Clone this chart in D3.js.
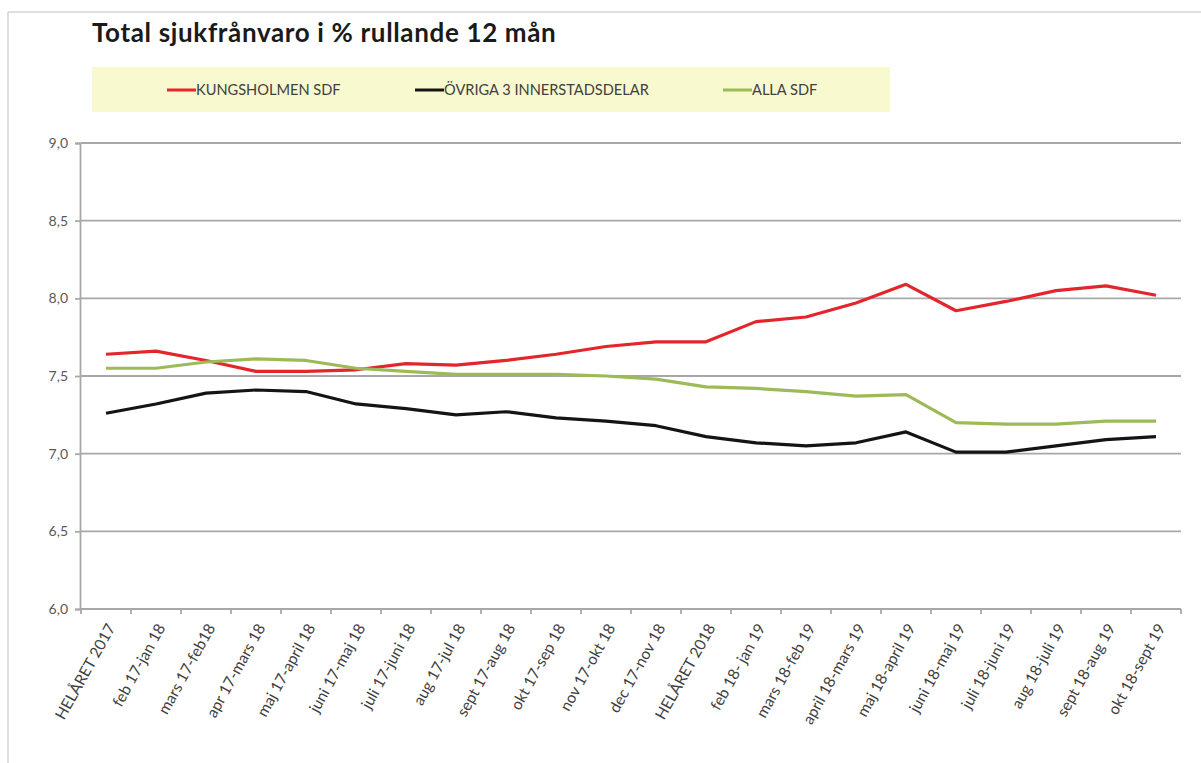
<!DOCTYPE html>
<html>
<head>
<meta charset="utf-8">
<script src="https://cdn.jsdelivr.net/npm/d3@7"></script>
<style>
  body { margin: 0; background: #fff; }
  svg { display: block; font-family: Lato, "Open Sans", sans-serif; }
</style>
</head>
<body>
<div id="chart"></div>
<script>
var categories = ["HELÅRET 2017", "feb 17-jan 18", "mars 17-feb18", "apr 17-mars 18", "maj 17-april 18",
    "juni 17-maj 18", "juli 17-juni 18", "aug 17-jul 18", "sept 17-aug 18", "okt 17-sep 18",
    "nov 17-okt 18", "dec 17-nov 18", "HELÅRET 2018", "feb 18- jan 19", "mars 18-feb 19",
    "april 18-mars 19", "maj 18-april 19", "juni 18-maj 19", "juli 18-juni 19", "aug 18-juli 19",
    "sept 18-aug 19", "okt 18-sept 19"];

var kungsholmen = [7.64, 7.66, 7.60, 7.53, 7.53, 7.54, 7.58, 7.57, 7.60, 7.64, 7.69,
    7.72, 7.72, 7.85, 7.88, 7.97, 8.09, 7.92, 7.98, 8.05, 8.08, 8.02];
var ovriga = [7.26, 7.32, 7.39, 7.41, 7.40, 7.32, 7.29, 7.25, 7.27, 7.23, 7.21,
    7.18, 7.11, 7.07, 7.05, 7.07, 7.14, 7.01, 7.01, 7.05, 7.09, 7.11];
var alla = [7.55, 7.55, 7.59, 7.61, 7.60, 7.55, 7.53, 7.51, 7.51, 7.51, 7.50,
    7.48, 7.43, 7.42, 7.40, 7.37, 7.38, 7.20, 7.19, 7.19, 7.21, 7.21];

var seriesNames = ["KUNGSHOLMEN SDF", "ÖVRIGA 3 INNERSTADSDELAR", "ALLA SDF"];
var seriesColors = ["#e3262b", "#141414", "#9bbb59"];
var yTicks = [6.0, 6.5, 7.0, 7.5, 8.0, 8.5, 9.0];

var width = 1201, height = 763;
var margin = { top: 143, right: 20, bottom: 154, left: 81 };

var svg = d3.select("#chart")
    .append("svg")
    .attr("width", width)
    .attr("height", height);

// frame
svg.append("line").attr("x1", 8).attr("x2", 8).attr("y1", 12).attr("y2", height)
    .style("stroke", "#d4d4d4").style("stroke-width", 1.5);
svg.append("line").attr("x1", 8).attr("x2", width).attr("y1", 12).attr("y2", 12)
    .style("stroke", "#d4d4d4").style("stroke-width", 1.5);

// title
svg.append("text")
    .attr("x", 92)
    .attr("y", 42)
    .text("Total sjukfrånvaro i % rullande 12 mån")
    .style("font-size", "26px")
    .style("font-weight", "700")
    .style("letter-spacing", "0.65px")
    .style("fill", "#1a1a1a");

// legend
svg.append("rect")
    .attr("x", 92).attr("y", 67)
    .attr("width", 798).attr("height", 45)
    .style("fill", "#f9f9cf");

var legendX = [167, 415, 723];
var legend = svg.selectAll(".legend")
    .data(seriesNames)
    .join("g")
    .attr("class", "legend")
    .attr("transform", (d, i) => "translate(" + legendX[i] + ",90)");
legend.append("line")
    .attr("x1", 0).attr("x2", 29)
    .style("stroke", (d, i) => seriesColors[i])
    .style("stroke-width", 3);
legend.append("text")
    .attr("x", 29)
    .attr("y", 0)
    .attr("dy", "0.35em")
    .text(d => d)
    .style("font-size", "14.6px")
    .style("fill", "#404040");

var x = d3.scaleBand()
    .domain(categories)
    .range([margin.left, width - margin.right])
    .padding(0);

var y = d3.scaleLinear()
    .domain([6, 9])
    .range([height - margin.bottom, margin.top]);

var locale = d3.formatLocale({ decimal: ",", thousands: " ", grouping: [3], currency: ["", " kr"] });
var fmt = locale.format(".1f");

// gridlines
svg.append("g")
    .selectAll("line")
    .data(yTicks.filter(d => d > 6))
    .join("line")
    .attr("x1", margin.left)
    .attr("x2", width - margin.right)
    .attr("y1", d => y(d))
    .attr("y2", d => y(d))
    .style("stroke", "#a8a8a8")
    .style("stroke-width", 1.8);

// y axis
var yAxis = svg.append("g")
    .attr("transform", "translate(" + (margin.left - 1) + ",0)")
    .call(d3.axisLeft(y).tickValues(yTicks).tickFormat(fmt).tickSize(5).tickPadding(7));
yAxis.selectAll("path, line").style("stroke", "#a8a8a8").style("stroke-width", 1.8);
yAxis.selectAll("text")
    .style("font-size", "14px")
    .style("fill", "#595959")
    .style("font-family", "Lato, sans-serif");

// x axis
var xg = svg.append("g")
    .attr("transform", "translate(0," + y(6) + ")");
xg.append("line")
    .attr("x1", margin.left - 1).attr("x2", width - margin.right)
    .style("stroke", "#a8a8a8").style("stroke-width", 1.8);
xg.selectAll(".tick")
    .data(categories.concat(["end"]))
    .join("line")
    .attr("x1", (d, i) => margin.left + i * x.bandwidth())
    .attr("x2", (d, i) => margin.left + i * x.bandwidth())
    .attr("y1", 0).attr("y2", 5)
    .style("stroke", "#a8a8a8").style("stroke-width", 1.8);
xg.selectAll(".xlab")
    .data(categories)
    .join("text")
    .attr("class", "xlab")
    .attr("transform", d => "translate(" + (x(d) + x.bandwidth() / 2 + 5) + ",16) rotate(-61)")
    .attr("text-anchor", "end")
    .attr("dy", "0.35em")
    .text(d => d)
    .style("font-size", "15.5px")
    .style("fill", "#404040");

// lines
var line = d3.line()
    .x((d, i) => x(categories[i]) + x.bandwidth() / 2)
    .y(d => y(d));

svg.selectAll(".series")
    .data([kungsholmen, ovriga, alla])
    .join("path")
    .attr("class", "series")
    .attr("d", line)
    .style("fill", "none")
    .style("stroke", (d, i) => seriesColors[i])
    .style("stroke-width", 3.2)
    .style("stroke-linejoin", "round");
</script>
</body>
</html>
